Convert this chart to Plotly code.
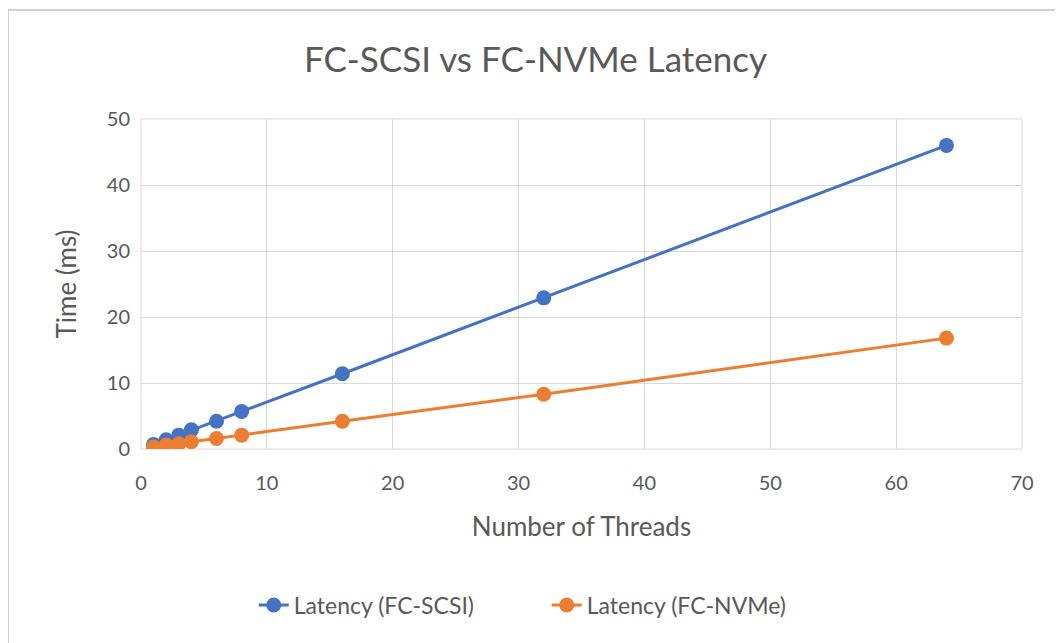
import plotly.graph_objects as go

threads = [1, 2, 3, 4, 6, 8, 16, 32, 64]
latency_scsi = [0.7, 1.4, 2.1, 2.9, 4.2, 5.7, 11.4, 22.9, 46.0]
latency_nvme = [0.3, 0.6, 0.8, 1.1, 1.6, 2.1, 4.2, 8.3, 16.8]
series_names = ["Latency (FC-SCSI)", "Latency (FC-NVMe)"]
colors = ["#4472C4", "#ED7D31"]

font_family = "Lato, Open Sans, sans-serif"
text_color = "#595959"

fig = go.Figure()
for name, ys, c in zip(series_names, [latency_scsi, latency_nvme], colors):
    fig.add_trace(go.Scatter(
        x=threads, y=ys, name=name, mode="lines+markers",
        line=dict(color=c, width=3),
        marker=dict(color=c, size=15),
    ))

fig.update_layout(
    width=1055, height=635,
    margin=dict(l=133, r=41, t=111, b=194),
    paper_bgcolor="white", plot_bgcolor="white",
    font=dict(family=font_family, color=text_color, size=20),
    title=dict(text="FC-SCSI vs FC-NVMe Latency", x=0.5, xanchor="center",
               y=0.918, yanchor="middle",
               font=dict(size=35, color=text_color, family=font_family)),
    xaxis=dict(range=[0, 70], dtick=10, showgrid=True, gridcolor="#d9d9d9",
               gridwidth=1, zeroline=False, showline=False,
               ticks="", ticklabelstandoff=20, tickfont=dict(size=20, color=text_color),
               title=dict(text="Number of Threads", font=dict(size=26, color=text_color), standoff=24)),
    yaxis=dict(range=[0, 50], dtick=10, showgrid=True, gridcolor="#d9d9d9",
               gridwidth=1, zeroline=False, showline=False,
               ticks="", ticklabelstandoff=10, tickfont=dict(size=20, color=text_color),
               title=dict(text="Time (ms)", font=dict(size=26, color=text_color), standoff=22)),
    legend=dict(orientation="h", x=0.128, xanchor="left", y=-0.473, yanchor="middle",
                font=dict(size=23, color=text_color), entrywidth=248, entrywidthmode="pixels"),
    showlegend=True,
)
fig.add_shape(type="rect", xref="paper", yref="paper", x0=0, x1=1, y0=0, y1=1,
              line=dict(color="#d9d9d9", width=1), layer="below")
fig.add_shape(type="rect", xref="paper", yref="paper", x0=-0.151, x1=1.06, y0=-0.6, y1=1.33,
              line=dict(color="#d0d0d0", width=2), layer="below")

fig.write_html("out.html")
